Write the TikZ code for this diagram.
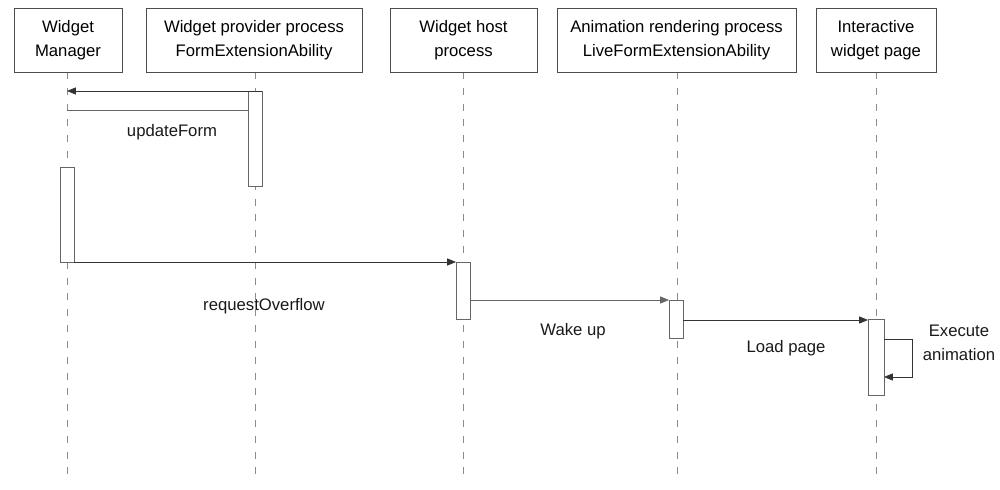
\documentclass[tikz,border=0pt]{standalone}
\usepackage{fontspec}
\setmainfont{Liberation Sans}
\usetikzlibrary{arrows.meta}
\begin{document}
\begin{tikzpicture}[x=0.2mm,y=-0.2mm,font=\fontsize{9.5}{13.5}\selectfont,
  head/.style={draw=black!70,fill=white,align=center,inner sep=0},
  act/.style={draw=black!60,fill=white},
  life/.style={draw=black!45,dash pattern=on 4pt off 5pt},
  msg/.style={draw=black!80,-{Triangle[length=5pt,width=4pt]}},
  lbl/.style={text=black!90}]
\useasboundingbox (0,0) rectangle (1000,490);
% lifelines
\foreach \x/\n in {67/a,255/b,463/c,677/d,876/e}{
  \coordinate (t\n) at (\x,72); \coordinate (b\n) at (\x,482);
  \draw[life] (t\n) -- (b\n);}
% headers
\node[head,minimum width=108*0.2mm,minimum height=64*0.2mm] (h1) at (68,40) {Widget\\Manager};
\node[head,minimum width=216*0.2mm,minimum height=64*0.2mm] (h2) at (254,40) {Widget provider process\\FormExtensionAbility};
\node[head,minimum width=147*0.2mm,minimum height=64*0.2mm] (h3) at (463.5,40) {Widget host\\process};
\node[head,minimum width=239*0.2mm,minimum height=64*0.2mm] (h4) at (676.5,40) {Animation rendering process\\LiveFormExtensionAbility};
\node[head,minimum width=120*0.2mm,minimum height=64*0.2mm] (h5) at (876,40) {Interactive\\widget page};
% activations
\draw[act] (248,91) rectangle (262,186);
\draw[act] (60,167) rectangle (74,262);
\draw[act] (456,262) rectangle (470,319);
\draw[act] (669,300) rectangle (683,338);
\draw[act] (868,319) rectangle (884,395);
\coordinate (p1) at (262,91); \coordinate (m1) at (67,91);
\coordinate (p2) at (248,110); \coordinate (m2) at (67,110);
\draw[msg] (p1) -- (m1);
\draw[black!60] (p2) -- (m2);
\node[lbl] (l1) at (172,132) {updateForm};
\coordinate (m3) at (74,262); \coordinate (c3) at (456,262);
\draw[msg] (m3) -- (c3);
\node[lbl] (l2) at (264,306) {requestOverflow};
\coordinate (c4) at (470,300); \coordinate (d4) at (669,300);
\draw[msg,black!60] (c4) -- (d4);
\node[lbl] (l3) at (573,331) {Wake up};
\coordinate (d5) at (683,320); \coordinate (e5) at (868,320);
\draw[msg] (d5) -- (e5);
\node[lbl] (l4) at (786,348) {Load page};
\coordinate (s1) at (884,339); \coordinate (s2) at (884,377);
\draw[msg] (s1) -- (912,339) -- (912,377) -- (s2);
\node[lbl,align=center] (l5) at (959,343) {Execute\\animation};
\end{tikzpicture}
\end{document}
